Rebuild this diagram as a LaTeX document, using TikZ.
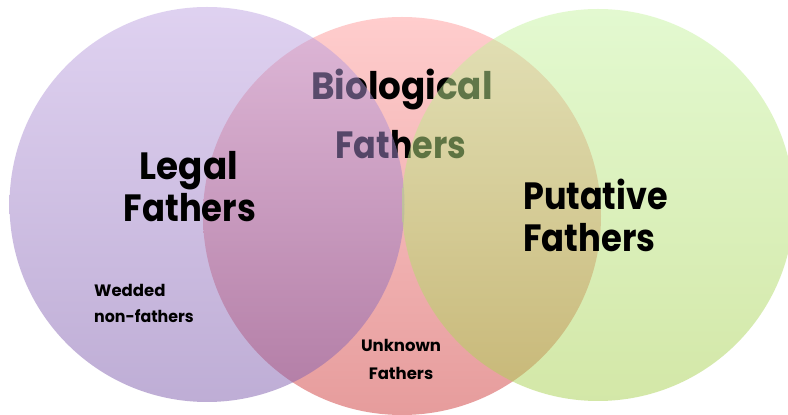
\documentclass[tikz,border=0pt]{standalone}
\usepackage{fontspec}
\setmainfont{Poppins}
\newcommand{\narrow}[2]{\scalebox{#1}[1]{#2}}
\begin{document}
\begin{tikzpicture}[x=1pt,y=1pt,
  big/.style={font=\fontsize{38}{40}\selectfont\bfseries, inner sep=0pt, text=black},
  small/.style={font=\fontsize{16.5}{18}\selectfont\bfseries, inner sep=0pt, text=black}]
\useasboundingbox (0,0) rectangle (788,415);
\fill[white] (0,0) rectangle (788,415);
% red (biological) circle
\shade[top color={rgb,255:red,255;green,205;blue,205}, bottom color={rgb,255:red,230;green,156;blue,156}] (402,199) circle (199);
\node[big, anchor=base] (bio1) at (402,315) {\narrow{0.94}{Biological}};
\node[big, anchor=base] (bio2) at (401,256) {\narrow{0.88}{Fathers}};
% purple (legal) circle
\shade[fill opacity=0.5, top color={rgb,255:red,192;green,165;blue,227}, bottom color={rgb,255:red,127;green,93;blue,173}] (207,210.5) circle (197.5);
% green (putative) circle
\shade[fill opacity=0.5, top color={rgb,255:red,200;green,245;blue,163}, bottom color={rgb,255:red,169;green,209;blue,81}] (598,210) circle (196);
% labels
\node[big, anchor=base] (legal1) at (189,235) {\narrow{0.94}{Legal}};
\node[big, anchor=base] (legal2) at (190,193) {\narrow{0.89}{Fathers}};
\node[big, anchor=base west] (put1) at (523,205) {\narrow{0.88}{Putative}};
\node[big, anchor=base west] (put2) at (523,163) {\narrow{0.89}{Fathers}};
\node[small, anchor=base west] (wed1) at (94,118) {Wedded};
\node[small, anchor=base west] (wed2) at (94,92) {\narrow{0.96}{non-fathers}};
\node[small, anchor=base] (unk1) at (401,63) {Unknown};
\node[small, anchor=base] (unk2) at (401,35) {Fathers};
\end{tikzpicture}
\end{document}
